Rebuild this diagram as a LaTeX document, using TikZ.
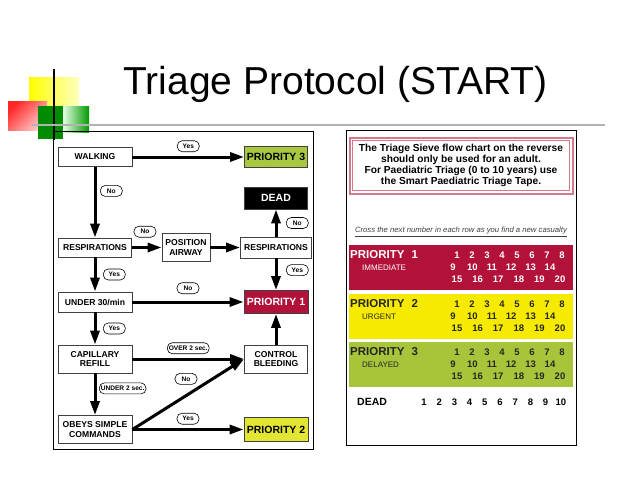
\documentclass[tikz,border=0pt]{standalone}
\usepackage{fontspec}
\setmainfont{Liberation Sans}
\usetikzlibrary{arrows.meta}

\definecolor{redband}{RGB}{178,18,58}
\definecolor{yellowband}{RGB}{246,234,0}
\definecolor{greenband}{RGB}{168,196,58}
\definecolor{greenbox}{RGB}{168,200,64}
\definecolor{yellowbox}{RGB}{226,230,50}
\definecolor{pinkframe}{RGB}{214,120,140}

\begin{document}
\begin{tikzpicture}[x=1pt, y=-1pt,
    box/.style={rectangle, draw=black!75, line width=0.8pt, fill=white, align=center,
      inner sep=1pt, font=\fontsize{8.6}{9.4}\selectfont\bfseries},
    prio/.style={box, font=\fontsize{10.5}{11}\selectfont\bfseries},
    tag/.style={rectangle, rounded corners=5pt, draw, line width=0.6pt, fill=white,
      inner sep=1.5pt, minimum width=22pt, minimum height=11pt, font=\fontsize{6.6}{7}\selectfont\bfseries},
    num/.style={inner sep=0pt, font=\fontsize{9.5}{10}\selectfont\bfseries},
    arr/.style={line width=3pt, -{Triangle[length=14pt, width=9pt]}}]

  \fill[white] (0,0) rectangle (638,479);
  \useasboundingbox (0,0) rectangle (638,479);

  % corner decoration
  \shade[left color=yellow, middle color=yellow, right color=yellow!25] (29,77) rectangle (79,108);
  \shade[left color=red!85, right color=red!20, shading angle=45] (8,101) rectangle (47,130);
  \fill[green!55!black] (38,106) rectangle (63,139);
  \shade[left color=green!10, right color=green!60!black] (63,106) rectangle (89,132);
  \draw[line width=1.5pt] (54,69) -- (54,140);
  \draw[black!30, line width=2pt] (32,125) -- (605,125);

  \node[anchor=base west, font=\fontsize{39}{44}\selectfont] (title) at (120,94) {Triage Protocol (START)};

  % sieve flow chart
  \draw[line width=0.9pt] (53,131) rectangle (313,449);

  \node[box, minimum width=74pt, minimum height=19pt] (walk) at (95,157) {WALKING};
  \node[prio, fill=greenbox, minimum width=63pt, minimum height=21pt] (prio3) at (276,157) {PRIORITY 3};
  \node[prio, fill=black, text=white, minimum width=63pt, minimum height=22pt] (dead) at (276,198) {DEAD};
  \node[box, minimum width=73pt, minimum height=19pt] (resp1) at (95,247.5) {RESPIRATIONS};
  \node[box, minimum width=48pt, minimum height=28pt] (airway) at (186,247.5) {POSITION\\AIRWAY};
  \node[box, minimum width=71pt, minimum height=21pt] (resp2) at (276,247.5) {RESPIRATIONS};
  \node[box, minimum width=74pt, minimum height=20pt] (under30) at (95,302) {UNDER 30/min};
  \node[prio, fill=redband, text=white, minimum width=64pt, minimum height=23pt] (prio1) at (276,302) {PRIORITY 1};
  \node[box, minimum width=74pt, minimum height=28pt] (refill) at (95,359) {CAPILLARY\\REFILL};
  \node[box, minimum width=63pt, minimum height=28pt] (bleed) at (276,359) {CONTROL\\BLEEDING};
  \node[box, minimum width=74pt, minimum height=28pt] (obeys) at (95,429.5) {OBEYS SIMPLE\\COMMANDS};
  \node[prio, fill=yellowbox, minimum width=64pt, minimum height=24pt] (prio2) at (276,429.5) {PRIORITY 2};

  \path[arr] (walk) edge node[tag, above=5pt] {Yes} (prio3);
  \path[arr] (walk) edge node[tag, pos=0.34, right=5pt] {No} (resp1);
  \path[arr] (resp1) edge node[tag, pos=0.44, above=10pt] {No} (airway);
  \path[arr] (airway) edge (resp2);
  \path[arr] (resp2) edge node[tag, right=10pt] {No} (dead);
  \path[arr] (resp2) edge node[tag, pos=0.37, right=10pt] {Yes} (prio1);
  \path[arr] (resp1) edge node[tag, right=8pt] {Yes} (under30);
  \path[arr] (under30) edge node[tag, above=8pt] {No} (prio1);
  \path[arr] (under30) edge node[tag, right=8pt] {Yes} (refill);
  \path[arr] (refill) edge node[tag, above=5pt] {OVER 2 sec.} (bleed);
  \path[arr] (refill) edge node[tag, pos=0.36, right=4pt] {UNDER 2 sec.} (obeys);
  \path[arr] (obeys.east) edge node[tag, pos=0.48, above=11pt] {No} (bleed.west);
  \path[arr] (obeys) edge node[tag, above=5pt] {Yes} (prio2);
  \path[arr] (bleed) edge (prio1);

  % reverse card
  \draw[line width=0.9pt] (346,130) rectangle (576,445);
  \draw[pinkframe, line width=2pt] (349.5,137.5) rectangle (572.5,193.5);
  \draw[pinkframe, line width=0.6pt] (352.5,140.5) rectangle (569.5,190.5);
  \node[align=center, font=\fontsize{10.2}{11}\selectfont\bfseries] (note) at (461,165)
       {The Triage Sieve flow chart on the reverse\\should only be used for an adult.\\For Paediatric Triage (0 to 10 years) use\\the Smart Paediatric Triage Tape.};
  \node[font=\fontsize{7.7}{8}\selectfont\itshape, text=black!75] (cross) at (461,232)
       {\underline{Cross the next number in each row as you find a new casualty}};

  \foreach \ytop/\n/\word/\col/\ink in {245/1/IMMEDIATE/redband/white,
      294/2/URGENT/yellowband/black!85, 342/3/DELAYED/greenband/black!85} {
    \fill[\col] (349,\ytop) rectangle (573,{\ytop+45});
    \node[anchor=west, inner sep=0pt, text=\ink, font=\fontsize{11.5}{12}\selectfont\bfseries] (band\n)
         at (350,{\ytop+10}) {PRIORITY\hspace{7pt}\n};
    \node[anchor=west, inner sep=0pt, text=\ink, font=\fontsize{8}{9}\selectfont] (word\n)
         at (362,{\ytop+22.5}) {\word};
    \foreach \k in {1,...,8}
      \node[num, text=\ink] (a\n-\k) at ({457+15*(\k-1)},{\ytop+10}) {\k};
    \foreach \k [count=\i] in {9,...,14}
      \node[num, text=\ink] (b\n-\k) at ({453+19.4*(\i-1)},{\ytop+22.5}) {\k};
    \foreach \k [count=\i] in {15,...,20}
      \node[num, text=\ink] (c\n-\k) at ({457+20.6*(\i-1)},{\ytop+34}) {\k};
  }

  \node[anchor=west, inner sep=0pt, font=\fontsize{10.5}{11}\selectfont\bfseries] (deadrow) at (357,402) {DEAD};
  \foreach \k in {1,...,10}
    \node[num] (d\k) at ({424+15.2*(\k-1)},402) {\k};

\end{tikzpicture}
\end{document}
